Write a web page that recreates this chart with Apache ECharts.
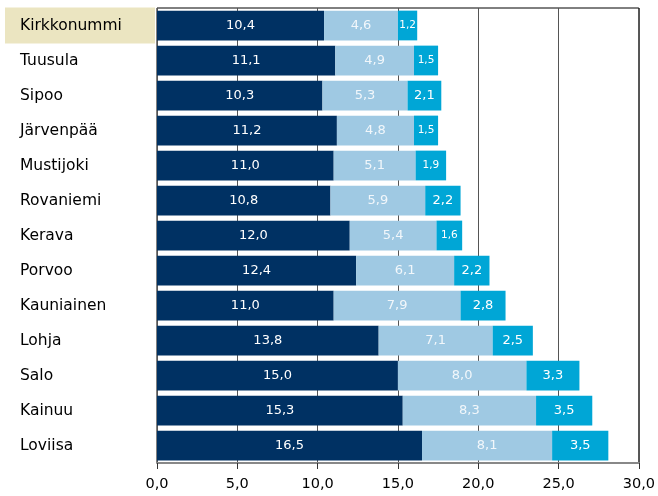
<!DOCTYPE html>
<html>
<head>
<meta charset="utf-8">
<script src="https://cdn.jsdelivr.net/npm/echarts@6/dist/echarts.min.js"></script>
<style>html,body{margin:0;padding:0;background:#fff;}#c{width:658px;height:496px;}</style>
</head>
<body>
<div id="c"></div>
<script>
const categories = ['Kirkkonummi','Tuusula','Sipoo','Järvenpää','Mustijoki','Rovaniemi','Kerava','Porvoo','Kauniainen','Lohja','Salo','Kainuu','Loviisa'];
const darkValues = [10.4, 11.1, 10.3, 11.2, 11.0, 10.8, 12.0, 12.4, 11.0, 13.8, 15.0, 15.3, 16.5];
const lightValues = [4.6, 4.9, 5.3, 4.8, 5.1, 5.9, 5.4, 6.1, 7.9, 7.1, 8.0, 8.3, 8.1];
const cyanValues = [1.2, 1.5, 2.1, 1.5, 1.9, 2.2, 1.6, 2.2, 2.8, 2.5, 3.3, 3.5, 3.5];
const highlighted = 'Kirkkonummi';

const FONT = 'DejaVu Sans';
const fmt = v => v.toFixed(1).replace('.', ',');
function labelFmt(p) {
  const t = fmt(p.value);
  return p.value < 2 ? '{s|' + t + '}' : '{b|' + t + '}';
}
function mkSeries(name, data, color, textColor) {
  return {
    name, type: 'bar', stack: 'total', data,
    barCategoryGap: '15%',
    itemStyle: { color },
    label: {
      show: true, position: 'inside', formatter: labelFmt,
      rich: {
        s: { fontSize: 10.5, color: textColor, fontFamily: FONT },
        b: { fontSize: 13, color: textColor, fontFamily: FONT }
      }
    },
    emphasis: { disabled: true }
  };
}
const chart = echarts.init(document.getElementById('c'));
chart.setOption({
  animation: false,
  grid: { left: 157, right: 18, top: 8, bottom: 33, show: true, borderColor: '#000', borderWidth: 1 },
  xAxis: {
    type: 'value', min: 0, max: 30, interval: 5,
    axisLine: { show: true, lineStyle: { color: '#888', width: 2 } },
    axisTick: { show: true, length: 6, lineStyle: { color: '#333' } },
    splitLine: { show: true, lineStyle: { color: '#555', width: 1 } },
    axisLabel: { formatter: v => fmt(v), fontFamily: FONT, fontSize: 14.5, color: '#000', margin: 14 }
  },
  yAxis: {
    type: 'category', data: categories, inverse: true,
    axisLine: { show: false }, axisTick: { show: false },
    axisLabel: {
      align: 'left', margin: 152,
      formatter: v => (v === highlighted ? '{h|' + v + '}' : '{n|' + v + '}'),
      rich: {
        h: { backgroundColor: '#ebe5c1', width: 135, height: 36, padding: [0, 0, 0, 15], fontFamily: FONT, fontSize: 15.5, color: '#000' },
        n: { width: 135, height: 36, padding: [0, 0, 0, 15], fontFamily: FONT, fontSize: 15.5, color: '#000' }
      }
    }
  },
  series: [
    mkSeries('a', darkValues, '#003163', '#ffffff'),
    mkSeries('b', lightValues, '#9fc9e3', '#f2f7fb'),
    mkSeries('c', cyanValues, '#00a6d6', '#ffffff')
  ]
});
</script>
</body>
</html>
